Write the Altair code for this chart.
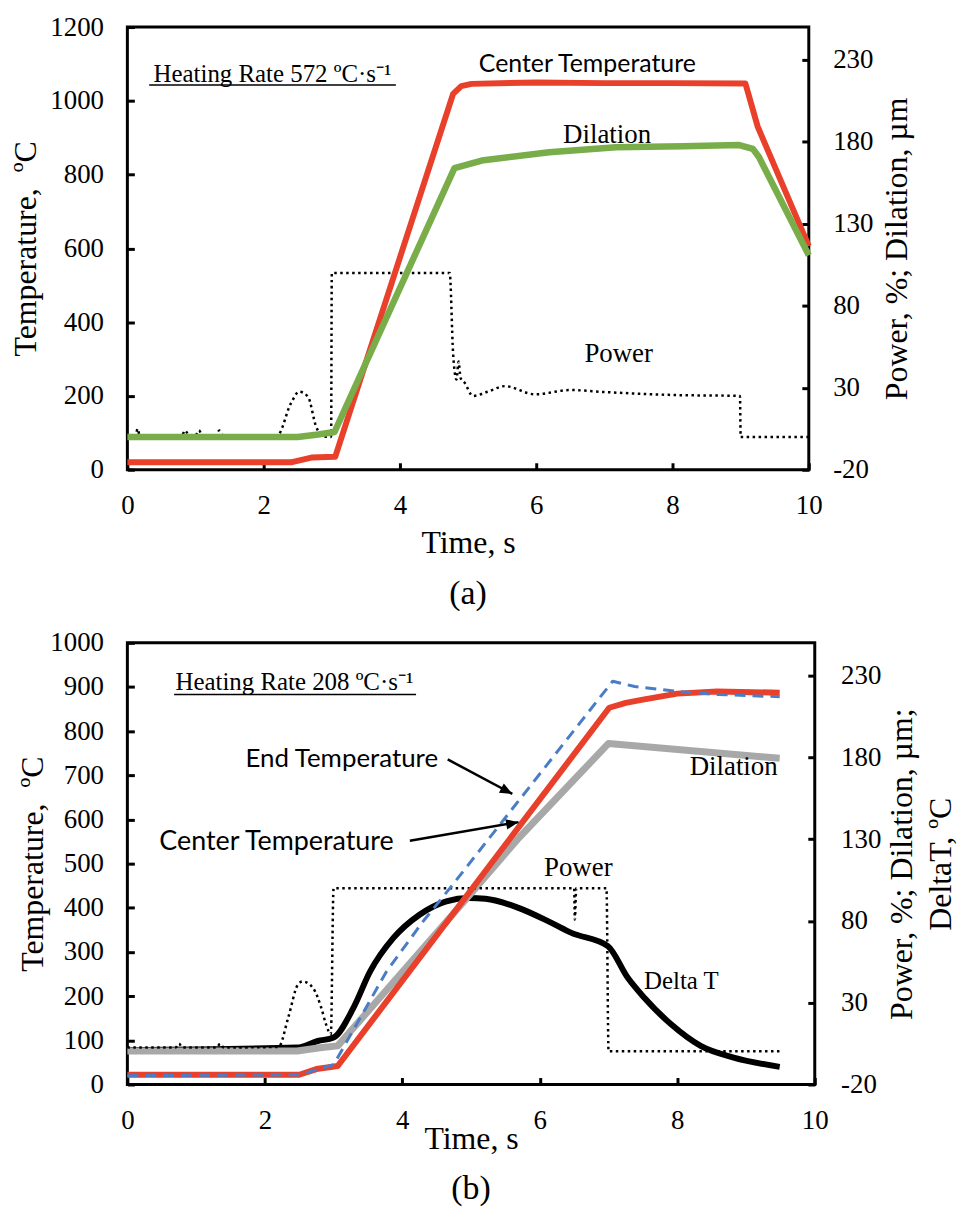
import altair as alt
import pandas as pd

SERIF = "Liberation Serif"
SANS = "Lato"

# ---------- (a) heating rate 572 C/s ----------
a_center_time = [0, 2.4, 2.7, 3.05, 4.78, 4.9, 5.05, 6.0, 7.0, 8.0, 9.07, 9.25, 10.0]
a_center_temp = [20, 20, 33, 35, 1019, 1040, 1046, 1050, 1048, 1048, 1047, 930, 606]

a_dil_time = [0, 2.5, 2.8, 3.04, 4.8, 5.2, 6.19, 7.17, 8.15, 8.98, 9.18, 9.27, 10.0]
a_dil_um = [0, 0, 1.5, 3, 164, 168.6, 173.6, 176.7, 177.3, 178, 175.7, 170.6, 110.8]

a_power_time = [0, 0.12, 0.15, 0.18, 0.8, 0.85, 0.9, 1.0, 1.05, 1.1, 1.3, 1.35, 1.4,
                2.2, 2.4, 2.52, 2.65, 2.77, 2.87, 2.99, 3.0, 4.73, 4.78, 4.83, 4.86,
                4.89, 4.95, 5.07, 5.29, 5.54, 5.98, 6.5, 7.0, 8.0, 8.99, 9.0, 10.0]
a_power_pct = [1, 1, 5, 1, 1, 4, 1, 1, 4, 1, 1, 4, 1,
               1, 20.5, 27.6, 24.6, 6.3, 0.5, 0, 100, 100, 51, 35, 46,
               36, 33, 25, 27.6, 31, 26, 28.6, 27.4, 25.6, 25, 0, 0]

# ---------- (b) heating rate 208 C/s ----------
b_center_time = [0, 2.5, 2.75, 3.06, 7.01, 7.25, 7.52, 8.0, 8.58, 9.49]
b_center_temp = [22, 22, 35, 42, 853, 864, 872, 885, 890, 887]

b_end_time = [0, 2.5, 2.75, 3.0, 3.25, 3.77, 4.3, 4.69, 7.06, 7.38, 8.0, 8.58, 9.49]
b_end_temp = [20, 22, 33, 45, 113, 256, 369, 444, 913, 901, 890, 883, 878]

b_dil_time = [0, 2.47, 2.8, 3.06, 4.9, 5.7, 7.0, 9.49]
b_dil_um = [0.5, 0.5, 2.5, 3.6, 92, 131, 188.5, 179.4]

b_dt_time = [0, 2.47, 2.77, 3.0, 3.29, 3.53, 3.87, 4.25, 4.64, 4.97, 5.21, 5.69,
             6.17, 6.46, 6.99, 7.28, 7.52, 7.91, 8.34, 8.82, 9.49]
b_dt_c = [1, 2.6, 6.6, 8.7, 27, 49, 69.6, 83.8, 92, 94, 93.6, 88,
          78.8, 72.7, 64.6, 45.2, 33, 16.8, 3.6, -3.5, -9.2]

b_power_time = [0, 0.7, 0.75, 0.8, 1.3, 1.35, 1.4, 2.2, 2.34, 2.48, 2.55, 2.7, 2.82,
                2.89, 2.96, 3.0, 6.5, 6.51, 6.53, 6.97, 7.0, 9.49]
b_power_pct = [2.6, 2.6, 5, 2.6, 2.6, 5, 2.6, 3, 20.9, 41, 43, 39, 27,
               16.8, 10.7, 100, 100, 80.8, 100, 100, 0.3, 0.3]

# annotations, anchored in (time, left-axis temperature) units
a_rate_label = "Heating Rate 572 ºC·s⁻¹"
a_rate_at = (2.13, 1073)
a_rate_line = (0.32, 3.94, 1043)
a_labels = ["Center Temperature", "Dilation", "Power"]
a_label_time = [6.75, 7.04, 7.21]
a_label_temp = [1100, 908, 314]

b_rate_label = "Heating Rate 208 ºC·s⁻¹"
b_rate_at = (2.43, 912)
b_rate_line = (0.68, 4.2, 883)
b_labels = ["End Temperature", "Center Temperature", "Power", "Dilation", "Delta T"]
b_label_time = [3.12, 2.17, 6.56, 8.82, 8.06]
b_label_temp = [736, 550, 489, 718, 234]
b_arrow_from = [(4.66, 736), (4.11, 552)]
b_arrow_to = [(5.60, 658), (5.69, 594)]

RIGHT_TICKS = [-20, 30, 80, 130, 180, 230]
PLAIN = "'' + datum.value"
x_scale = alt.Scale(domain=[0, 10], nice=False, zero=False)
right_scale = alt.Scale(domain=[-20, 250], nice=False, zero=False)


def x_axis(title_pad):
    return alt.Axis(values=[0, 2, 4, 6, 8, 10], title="Time, s", labelPadding=23,
                    titlePadding=title_pad, offset=-7, labelFlush=False, labelExpr=PLAIN)


def left_axis(ticks, title_pad):
    return alt.Axis(orient="left", values=ticks, title="Temperature, \u00a0ºC",
                    labelPadding=24, titlePadding=title_pad, offset=-7, labelExpr=PLAIN)


def right_axis(title, label_pad, title_x, title_y):
    return alt.Axis(orient="right", values=RIGHT_TICKS, title=title, titleAngle=270,
                    titleBaseline="top", titleAlign="center", titleLineHeight=39,
                    titleX=title_x, titleY=title_y,
                    labelAlign="left", labelPadding=label_pad, offset=-7, labelExpr=PLAIN)


def series(times, values, y_scale, xa, color, width, dash=None, y_axis=None,
           curve="linear"):
    df = pd.DataFrame({"t": times, "v": values})
    style = dict(color=color, strokeWidth=width, strokeJoin="round", strokeCap="butt",
                 interpolate=curve)
    if dash:
        style["strokeDash"] = dash
    return alt.Chart(df).mark_line(**style).encode(
        x=alt.X("t:Q", scale=x_scale, axis=xa),
        y=alt.Y("v:Q", scale=y_scale, axis=y_axis),
    )


def notes(labels, times, temps, fonts, sizes, y_scale, xa):
    out = []
    for s, t, v, f, z in zip(labels, times, temps, fonts, sizes):
        df = pd.DataFrame({"t": [t], "v": [v], "s": [s]})
        out.append(alt.Chart(df).mark_text(font=f, fontSize=z, color="black",
                                           align="center", baseline="middle").encode(
            x=alt.X("t:Q", scale=x_scale, axis=xa),
            y=alt.Y("v:Q", scale=y_scale, axis=None),
            text="s:N"))
    return out


def underline(span, y_scale, xa):
    df = pd.DataFrame({"t": [span[0]], "t2": [span[1]], "v": [span[2]]})
    return alt.Chart(df).mark_rule(color="black", strokeWidth=1.5).encode(
        x=alt.X("t:Q", scale=x_scale, axis=xa), x2="t2:Q",
        y=alt.Y("v:Q", scale=y_scale, axis=None))


def arrow(start, end, angle, y_scale, xa):
    df = pd.DataFrame({"t": [start[0]], "v": [start[1]], "t2": [end[0]], "v2": [end[1]]})
    shaft = alt.Chart(df).mark_rule(color="black", strokeWidth=2.5).encode(
        x=alt.X("t:Q", scale=x_scale, axis=xa), x2="t2:Q",
        y=alt.Y("v:Q", scale=y_scale, axis=None), y2="v2:Q")
    head = alt.Chart(df).mark_point(shape="M0,0L-1,-0.42L-1,0.42Z", filled=True,
                                    color="black", opacity=1, size=620, angle=angle).encode(
        x=alt.X("t2:Q", scale=x_scale, axis=xa),
        y=alt.Y("v2:Q", scale=y_scale, axis=None))
    return [shaft, head]


# ---------------- panel (a) ----------------
A_W, A_H = 685, 445
xa_a = x_axis(9)
left_a = alt.Scale(domain=[0, 1200], nice=False, zero=False)

power_a = series(a_power_time, a_power_pct, right_scale, xa_a, "black", 2.5, [2.5, 3.5],
                 curve="monotone")
center_a = series(a_center_time, a_center_temp, left_a, xa_a, "#e8402a", 6,
                  y_axis=left_axis(list(range(0, 1201, 200)), 7))
dil_a = series(a_dil_time, a_dil_um, right_scale, xa_a, "#79ad4a", 6.5,
               y_axis=right_axis("Power, %; Dilation, µm", 24, 80, A_H / 2))
notes_a = alt.layer(
    *notes([a_rate_label], [a_rate_at[0]], [a_rate_at[1]], [SERIF], [25], left_a, xa_a),
    underline(a_rate_line, left_a, xa_a),
    *notes(a_labels, a_label_time, a_label_temp, [SANS, SERIF, SERIF], [25, 27, 27],
           left_a, xa_a),
)

panel_a = alt.layer(power_a, center_a, dil_a, notes_a).resolve_scale(
    y="independent"
).properties(
    width=A_W, height=A_H,
    title=alt.TitleParams("(a)", orient="bottom", offset=19, frame="group"),
)

# ---------------- panel (b) ----------------
B_W, B_H = 691, 444
xa_b = x_axis(-10)
left_b = alt.Scale(domain=[0, 1000], nice=False, zero=False)

dt_b = series(b_dt_time, b_dt_c, right_scale, xa_b, "black", 6, curve="monotone")
dil_b = series(b_dil_time, b_dil_um, right_scale, xa_b, "#a8a8a8", 7,
               y_axis=right_axis(["Power, %; Dilation, µm;", "DeltaT, ºC"], 26, 79, B_H / 2))
power_b = series(b_power_time, b_power_pct, right_scale, xa_b, "black", 2.5, [2.5, 3.5],
                 curve="monotone")
center_b = series(b_center_time, b_center_temp, left_b, xa_b, "#e8402a", 6,
                  y_axis=left_axis(list(range(0, 1001, 100)), 0))
end_b = series(b_end_time, b_end_temp, left_b, xa_b, "#4a7dc5", 3, [11, 7])
notes_b = alt.layer(
    *notes([b_rate_label], [b_rate_at[0]], [b_rate_at[1]], [SERIF], [25], left_b, xa_b),
    underline(b_rate_line, left_b, xa_b),
    *notes(b_labels, b_label_time, b_label_temp,
           [SANS, SANS, SERIF, SERIF, SERIF], [26, 27, 27, 27, 25], left_b, xa_b),
    *arrow(b_arrow_from[0], b_arrow_to[0], 28, left_b, xa_b),
    *arrow(b_arrow_from[1], b_arrow_to[1], 350, left_b, xa_b),
)

panel_b = alt.layer(dt_b, dil_b, power_b, center_b, end_b, notes_b).resolve_scale(
    y="independent"
).properties(
    width=B_W, height=B_H,
    title=alt.TitleParams("(b)", orient="bottom", offset=18, frame="group"),
)

chart = alt.vconcat(panel_a, panel_b, spacing=14).properties(
    padding={"left": 0, "top": 0, "right": 2, "bottom": 0}
).configure_view(
    stroke="black", strokeWidth=3
).configure_axis(
    grid=False, domain=False, ticks=True, tickSize=7, tickWidth=3, tickColor="black",
    labelFont=SERIF, labelFontSize=27, labelColor="black",
    titleFont=SERIF, titleFontSize=32, titleFontWeight="normal", titleColor="black",
).configure_title(
    font=SERIF, fontSize=34, fontWeight="normal", color="black", anchor="middle",
)

chart.save("out.html", embed_options={"renderer": "svg", "actions": False})
